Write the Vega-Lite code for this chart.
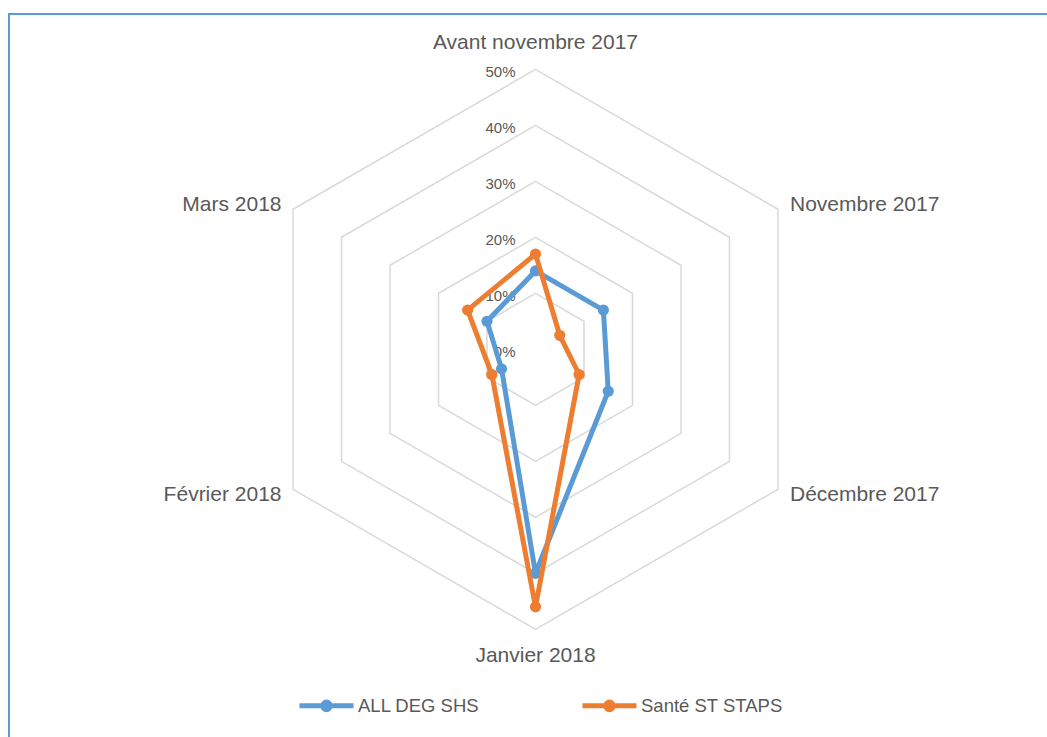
{
  "$schema": "https://vega.github.io/schema/vega-lite/v6.json",
  "width": 1043,
  "height": 728,
  "autosize": {"type": "none"},
  "padding": {"left": 9, "top": 14, "right": -5, "bottom": -5},
  "background": "white",
  "config": {
    "view": {"stroke": "#5B9BD5", "strokeWidth": 2},
    "font": "Liberation Sans"
  },
  "datasets": {
    "cats": [
      {"cat": "Avant novembre 2017", "k": 0},
      {"cat": "Novembre 2017", "k": 1},
      {"cat": "Décembre 2017", "k": 2},
      {"cat": "Janvier 2018", "k": 3},
      {"cat": "Février 2018", "k": 4},
      {"cat": "Mars 2018", "k": 5}
    ],
    "series": [
      {"series": "ALL DEG SHS", "cat": "Avant novembre 2017", "v": 0.14},
      {"series": "ALL DEG SHS", "cat": "Novembre 2017", "v": 0.14},
      {"series": "ALL DEG SHS", "cat": "Décembre 2017", "v": 0.15},
      {"series": "ALL DEG SHS", "cat": "Janvier 2018", "v": 0.40},
      {"series": "ALL DEG SHS", "cat": "Février 2018", "v": 0.07},
      {"series": "ALL DEG SHS", "cat": "Mars 2018", "v": 0.10},
      {"series": "Santé ST STAPS", "cat": "Avant novembre 2017", "v": 0.17},
      {"series": "Santé ST STAPS", "cat": "Novembre 2017", "v": 0.05},
      {"series": "Santé ST STAPS", "cat": "Décembre 2017", "v": 0.09},
      {"series": "Santé ST STAPS", "cat": "Janvier 2018", "v": 0.46},
      {"series": "Santé ST STAPS", "cat": "Février 2018", "v": 0.09},
      {"series": "Santé ST STAPS", "cat": "Mars 2018", "v": 0.14}
    ],
    "grid": [
      {"level": 0.1, "k": [0, 1, 2, 3, 4, 5]},
      {"level": 0.2, "k": [0, 1, 2, 3, 4, 5]},
      {"level": 0.3, "k": [0, 1, 2, 3, 4, 5]},
      {"level": 0.4, "k": [0, 1, 2, 3, 4, 5]},
      {"level": 0.5, "k": [0, 1, 2, 3, 4, 5]}
    ],
    "ticks": [
      {"level": 0}, {"level": 0.1}, {"level": 0.2}, {"level": 0.3}, {"level": 0.4}, {"level": 0.5}
    ]
  },
  "encoding": {
    "x": {"field": "x", "type": "quantitative", "axis": null, "scale": {"domain": [-0.94018, 0.92232], "nice": false, "zero": false}},
    "y": {"field": "y", "type": "quantitative", "axis": null, "scale": {"domain": [-0.70125, 0.59875], "nice": false, "zero": false}}
  },
  "layer": [
    {
      "data": {"name": "grid"},
      "transform": [
        {"flatten": ["k"]},
        {"calculate": "datum.level * sin(datum.k * PI / 3)", "as": "x"},
        {"calculate": "datum.level * cos(datum.k * PI / 3)", "as": "y"}
      ],
      "mark": {"type": "line", "interpolate": "linear-closed", "stroke": "#D9D9D9", "strokeWidth": 1.5},
      "encoding": {
        "detail": {"field": "level", "type": "nominal"},
        "order": {"field": "k", "type": "quantitative"}
      }
    },
    {
      "data": {"name": "ticks"},
      "transform": [
        {"calculate": "0", "as": "x"},
        {"calculate": "datum.level", "as": "y"}
      ],
      "mark": {"type": "text", "align": "right", "baseline": "alphabetic", "dx": -20, "dy": 8, "fontSize": 15, "color": "#595959"},
      "encoding": {"text": {"field": "level", "type": "quantitative", "format": ".0%"}}
    },
    {
      "data": {"name": "series"},
      "transform": [
        {"filter": "datum.series === 'ALL DEG SHS'"},
        {"lookup": "cat", "from": {"data": {"name": "cats"}, "key": "cat", "fields": ["k"]}},
        {"calculate": "datum.v * sin(datum.k * PI / 3)", "as": "x"},
        {"calculate": "datum.v * cos(datum.k * PI / 3)", "as": "y"}
      ],
      "mark": {"type": "line", "interpolate": "linear-closed", "strokeWidth": 5, "strokeJoin": "round", "strokeCap": "round"},
      "encoding": {
        "order": {"field": "k", "type": "quantitative"},
        "color": {
          "field": "series", "type": "nominal",
          "scale": {"domain": ["ALL DEG SHS", "Santé ST STAPS"], "range": ["#5B9BD5", "#ED7D31"]},
          "legend": {
            "orient": "none", "legendX": 288, "legendY": 662, "direction": "horizontal",
            "title": null, "padding": 0,
            "symbolType": "M-1,0H1M-0.14,0A0.14,0.14,0,1,1,0.14,0A0.14,0.14,0,1,1,-0.14,0Z",
            "symbolSize": 2916, "symbolStrokeWidth": 5,
            "labelFont": "Liberation Sans", "labelFontSize": 18.5, "labelColor": "#595959",
            "labelOffset": 2, "columnPadding": 92,
            "encode": {"symbols": {"update": {"fill": {"scale": "color", "field": "value"}, "stroke": {"scale": "color", "field": "value"}, "opacity": {"value": 1}}}}
          }
        }
      }
    },
    {
      "data": {"name": "series"},
      "transform": [
        {"filter": "datum.series === 'ALL DEG SHS'"},
        {"lookup": "cat", "from": {"data": {"name": "cats"}, "key": "cat", "fields": ["k"]}},
        {"calculate": "datum.v * sin(datum.k * PI / 3)", "as": "x"},
        {"calculate": "datum.v * cos(datum.k * PI / 3)", "as": "y"}
      ],
      "mark": {"type": "point", "filled": true, "size": 125, "opacity": 1},
      "encoding": {"color": {"field": "series", "type": "nominal"}}
    },
    {
      "data": {"name": "series"},
      "transform": [
        {"filter": "datum.series === 'Santé ST STAPS'"},
        {"lookup": "cat", "from": {"data": {"name": "cats"}, "key": "cat", "fields": ["k"]}},
        {"calculate": "datum.v * sin(datum.k * PI / 3)", "as": "x"},
        {"calculate": "datum.v * cos(datum.k * PI / 3)", "as": "y"}
      ],
      "mark": {"type": "line", "interpolate": "linear-closed", "strokeWidth": 5, "strokeJoin": "round", "strokeCap": "round"},
      "encoding": {
        "order": {"field": "k", "type": "quantitative"},
        "color": {"field": "series", "type": "nominal"}
      }
    },
    {
      "data": {"name": "series"},
      "transform": [
        {"filter": "datum.series === 'Santé ST STAPS'"},
        {"lookup": "cat", "from": {"data": {"name": "cats"}, "key": "cat", "fields": ["k"]}},
        {"calculate": "datum.v * sin(datum.k * PI / 3)", "as": "x"},
        {"calculate": "datum.v * cos(datum.k * PI / 3)", "as": "y"}
      ],
      "mark": {"type": "point", "filled": true, "size": 125, "opacity": 1},
      "encoding": {"color": {"field": "series", "type": "nominal"}}
    },
    {
      "data": {"name": "cats"},
      "transform": [
        {"filter": "datum.k === 0"},
        {"calculate": "0.5 * sin(datum.k * PI / 3)", "as": "x"},
        {"calculate": "0.5 * cos(datum.k * PI / 3)", "as": "y"}
      ],
      "mark": {"type": "text", "align": "center", "baseline": "alphabetic", "dy": -20, "fontSize": 21, "color": "#595959"},
      "encoding": {"text": {"field": "cat"}}
    },
    {
      "data": {"name": "cats"},
      "transform": [
        {"filter": "datum.k === 3"},
        {"calculate": "0.5 * sin(datum.k * PI / 3)", "as": "x"},
        {"calculate": "0.5 * cos(datum.k * PI / 3)", "as": "y"}
      ],
      "mark": {"type": "text", "align": "center", "baseline": "alphabetic", "dy": 33, "fontSize": 21, "color": "#595959"},
      "encoding": {"text": {"field": "cat"}}
    },
    {
      "data": {"name": "cats"},
      "transform": [
        {"filter": "datum.k === 1"},
        {"calculate": "0.5 * sin(datum.k * PI / 3)", "as": "x"},
        {"calculate": "0.5 * cos(datum.k * PI / 3)", "as": "y"}
      ],
      "mark": {"type": "text", "align": "left", "baseline": "alphabetic", "dx": 12, "dy": 2, "fontSize": 21, "color": "#595959"},
      "encoding": {"text": {"field": "cat"}}
    },
    {
      "data": {"name": "cats"},
      "transform": [
        {"filter": "datum.k === 2"},
        {"calculate": "0.5 * sin(datum.k * PI / 3)", "as": "x"},
        {"calculate": "0.5 * cos(datum.k * PI / 3)", "as": "y"}
      ],
      "mark": {"type": "text", "align": "left", "baseline": "alphabetic", "dx": 12, "dy": 12, "fontSize": 21, "color": "#595959"},
      "encoding": {"text": {"field": "cat"}}
    },
    {
      "data": {"name": "cats"},
      "transform": [
        {"filter": "datum.k === 4"},
        {"calculate": "0.5 * sin(datum.k * PI / 3)", "as": "x"},
        {"calculate": "0.5 * cos(datum.k * PI / 3)", "as": "y"}
      ],
      "mark": {"type": "text", "align": "right", "baseline": "alphabetic", "dx": -11.5, "dy": 12, "fontSize": 21, "color": "#595959"},
      "encoding": {"text": {"field": "cat"}}
    },
    {
      "data": {"name": "cats"},
      "transform": [
        {"filter": "datum.k === 5"},
        {"calculate": "0.5 * sin(datum.k * PI / 3)", "as": "x"},
        {"calculate": "0.5 * cos(datum.k * PI / 3)", "as": "y"}
      ],
      "mark": {"type": "text", "align": "right", "baseline": "alphabetic", "dx": -11.5, "dy": 2, "fontSize": 21, "color": "#595959"},
      "encoding": {"text": {"field": "cat"}}
    }
  ]
}
